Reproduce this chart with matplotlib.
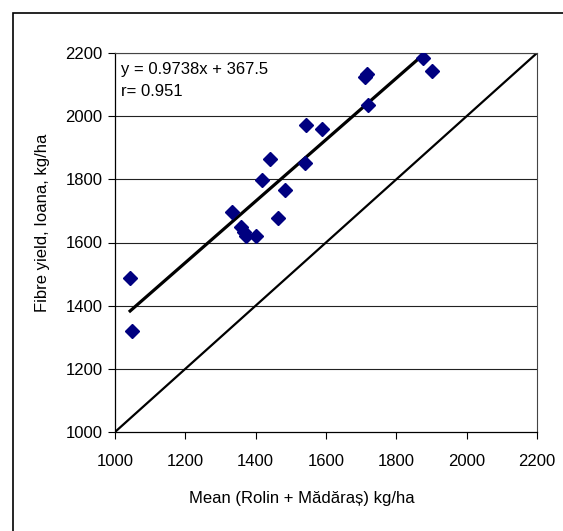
import matplotlib.pyplot as plt
from matplotlib.patches import Rectangle

# Mittelwert (Rolin + Mădăraș) gegen Ioana, kg/ha
mean_rolin_madaras = [1043, 1049, 1332, 1359, 1366, 1372, 1400, 1419, 1442, 1464,
                      1484, 1541, 1542, 1588, 1712, 1716, 1719, 1875, 1902]
ioana_yield = [1489, 1321, 1698, 1648, 1634, 1620, 1622, 1798, 1864, 1679,
               1766, 1853, 1971, 1958, 2125, 2135, 2036, 2183, 2143]

# Regressionsgerade aus dem Original
slope = 0.9738
intercept = 367.5
r_value = 0.951

axis_min, axis_max = 1000, 2200
ticks = [1000, 1200, 1400, 1600, 1800, 2000, 2200]

plt.rcParams['font.family'] = ['Liberation Sans', 'DejaVu Sans']

fig = plt.figure(figsize=(5.63, 5.31), dpi=100)
fig.patches.append(Rectangle((12.5 / 563, -0.1), 1.2, 1 - 12.5 / 531 + 0.1,
                             transform=fig.transFigure, fill=False,
                             edgecolor='black', linewidth=1.2))
ax = fig.add_axes([115 / 563, 1 - 432 / 531, 422 / 563, 379 / 531])

# Gitterlinien
for t in ticks[1:]:
    ax.axhline(t, color='#222222', linewidth=0.8, zorder=1)

# 1:1 Linie
ax.plot([axis_min, axis_max], [axis_min, axis_max], color='black', linewidth=1.6, zorder=2)

# Trendlinie
x_fit = [min(mean_rolin_madaras), max(mean_rolin_madaras)]
y_fit = [slope * x + intercept for x in x_fit]
ax.plot(x_fit, y_fit, color='black', linewidth=2.3, zorder=2)

ax.plot(mean_rolin_madaras, ioana_yield, linestyle='none', marker='D',
        markersize=7, color='#000080', zorder=3)

ax.set_xlim(axis_min, axis_max)
ax.set_ylim(axis_min, axis_max)
ax.set_xticks(ticks)
ax.set_yticks(ticks)
ax.tick_params(axis='x', direction='out', length=5, width=0.8, pad=11, labelsize=12)
ax.tick_params(axis='y', direction='out', length=5, width=0.8, pad=4, labelsize=12)
for s in ['left', 'bottom']:
    ax.spines[s].set_linewidth(0.9)
for s in ['right', 'top']:
    ax.spines[s].set_color('#444444')
    ax.spines[s].set_linewidth(0.8)

ax.text(1018, 2172, f'y = {slope}x + {intercept}\nr= {r_value}', fontsize=12,
        va='top', ha='left', linespacing=1.6)

fig.text(301.7 / 563, 1 - 498 / 531, 'Mean (Rolin + Mădăraș) kg/ha',
         ha='center', va='center', fontsize=12)
fig.text(43 / 563, 1 - 223 / 531, 'Fibre yield, Ioana, kg/ha', rotation=90,
         ha='center', va='center', fontsize=12)

fig.savefig('out.png', dpi=100)
